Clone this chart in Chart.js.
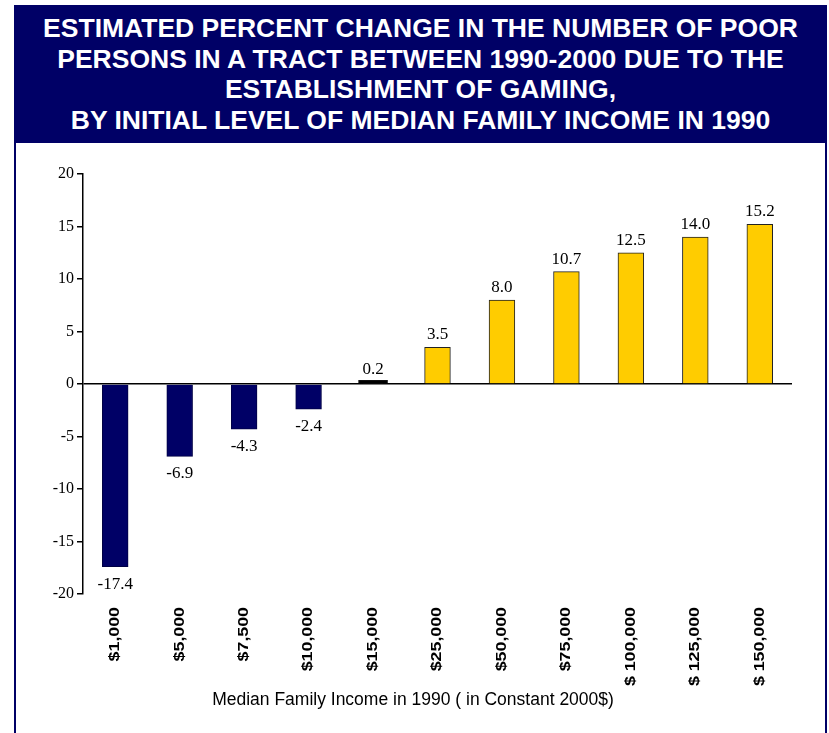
<!DOCTYPE html>
<html>
<head>
<meta charset="utf-8">
<script src="https://cdn.jsdelivr.net/npm/chart.js@4/dist/chart.umd.min.js"></script>
<style>
    body { margin: 0; background: #fff; width: 829px; height: 733px; overflow: hidden; position: relative; }
    #box { position: absolute; left: 14px; top: 5px; width: 809px; height: 740px; border-left: 2px solid #000066; border-right: 2px solid #000066; }
    #banner { background: #000066; color: #fff; height: 138px; margin: 0 -2px; font-family: "Liberation Sans", Arial, sans-serif; font-weight: bold; font-size: 26.5px; line-height: 30.5px; text-align: center; padding-top: 8px; box-sizing: border-box; white-space: nowrap; }
    #wrap { position: absolute; left: 0; top: 138px; width: 809px; height: 590px; }
</style>
</head>
<body>
<div id="box">
    <div id="banner">ESTIMATED PERCENT CHANGE IN THE NUMBER OF POOR<br>PERSONS IN A TRACT BETWEEN 1990-2000 DUE TO THE<br>ESTABLISHMENT OF GAMING,<br>BY INITIAL LEVEL OF MEDIAN FAMILY INCOME IN 1990</div>
    <div id="wrap"><canvas id="barChart"></canvas></div>
</div>
<script>
const incomeLabels = ['$1,000', '$5,000', '$7,500', '$10,000', '$15,000', '$25,000', '$50,000', '$75,000', '$ 100,000', '$ 125,000', '$ 150,000'];
const pctChange = [-17.4, -6.9, -4.3, -2.4, 0.2, 3.5, 8.0, 10.7, 12.5, 14.0, 15.2];
const yTicks = [-20, -15, -10, -5, 0, 5, 10, 15, 20];
const xTitle = 'Median Family Income in 1990 ( in Constant 2000$)';

function barColor(v) {
    if (v < 0) return '#000066';
    if (v < 1) return '#000000';
    return '#FFCC00';
}

// draws the value above (or below) each bar
const valueLabels = {
    id: 'valueLabels',
    afterDatasetsDraw(chart) {
        const ctx = chart.ctx;
        const meta = chart.getDatasetMeta(0);
        ctx.save();
        ctx.font = '17px "Liberation Serif", "Times New Roman", serif';
        ctx.fillStyle = '#000';
        ctx.textAlign = 'center';
        meta.data.forEach((bar, i) => {
            const v = pctChange[i];
            if (v >= 0) {
                ctx.textBaseline = 'bottom';
                ctx.fillText(v.toFixed(1), bar.x, bar.y - 4);
            } else {
                ctx.textBaseline = 'top';
                ctx.fillText(v.toFixed(1), bar.x, bar.y + 9);
            }
        });
        ctx.restore();
    }
};

// the category labels in the original are stretched along their length,
// and the axis title sits a bit left of the plot centre
const stretchedXLabels = {
    id: 'stretchedXLabels',
    afterDraw(chart) {
        const ctx = chart.ctx;
        const xs = chart.scales.x;
        const top = chart.chartArea.bottom + 13;
        ctx.save();
        ctx.font = 'bold 14px "Liberation Sans", Arial, sans-serif';
        ctx.fillStyle = '#000';
        ctx.textAlign = 'right';
        ctx.textBaseline = 'middle';
        incomeLabels.forEach((lab, i) => {
            ctx.save();
            ctx.translate(xs.getPixelForTick(i), top);
            ctx.rotate(-Math.PI / 2);
            ctx.scale(1.27, 1);
            ctx.fillText(lab, 0, 0);
            ctx.restore();
        });
        ctx.font = '17.5px "Liberation Sans", Arial, sans-serif';
        ctx.textAlign = 'center';
        ctx.fillText(xTitle, 397, 557);
        ctx.restore();
    }
};

document.addEventListener('DOMContentLoaded', function () {
    const ctx = document.getElementById('barChart').getContext('2d');
    new Chart(ctx, {
        type: 'bar',
        data: {
            labels: incomeLabels,
            datasets: [{
                data: pctChange,
                backgroundColor: pctChange.map(barColor),
                borderColor: pctChange.map(v => v < 0 ? '#000044' : '#222222'),
                borderWidth: 1,
                inflateAmount: pctChange.map(v => (v >= 0 && v < 1) ? 2 : 0.33),
                barPercentage: 0.4,
                categoryPercentage: 1.0
            }]
        },
        options: {
            responsive: true,
            maintainAspectRatio: false,
            animation: false,
            layout: { padding: { left: 0, right: 33, top: 31, bottom: 18 } },
            plugins: { legend: { display: false }, tooltip: { enabled: false } },
            scales: {
                x: {
                    grid: { display: false, drawTicks: false },
                    border: { display: false },
                    ticks: {
                        minRotation: 90, maxRotation: 90, padding: 13,
                        color: 'rgba(0,0,0,0)',
                        font: { family: '"Liberation Sans", Arial, sans-serif', size: 13, weight: 'bold' }
                    },
                    afterFit(scale) { scale.height = 121; }
                },
                y: {
                    min: -20, max: 20,
                    afterBuildTicks(scale) { scale.ticks = yTicks.map(v => ({ value: v })); },
                    grid: {
                        color: c => c.tick && c.tick.value === 0 ? '#000' : 'rgba(0,0,0,0)',
                        lineWidth: 1.5,
                        tickColor: '#000',
                        tickLength: 6
                    },
                    border: { display: true, color: '#000', width: 1.5 },
                    ticks: {
                        color: '#000',
                        padding: 3,
                        font: { family: '"Liberation Serif", "Times New Roman", serif', size: 16 }
                    },
                    afterFit(scale) { scale.width = 67; }
                }
            }
        },
        plugins: [valueLabels, stretchedXLabels]
    });
});
</script>
</body>
</html>
